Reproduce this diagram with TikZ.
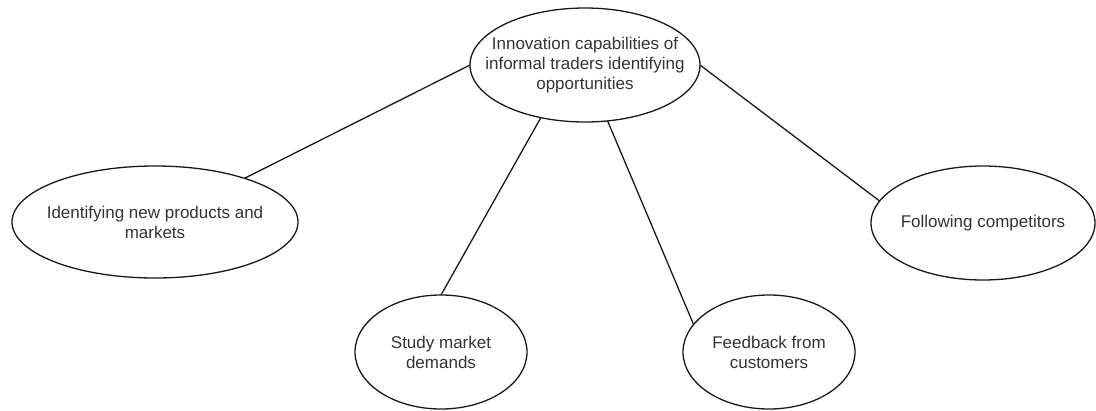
\documentclass[tikz,border=0pt]{standalone}
\usepackage{fontspec}
\setmainfont{Liberation Sans}
\usetikzlibrary{shapes.geometric}
\begin{document}
\begin{tikzpicture}[x=1pt,y=-1pt,
  ell/.style={ellipse, draw=black!90, line width=1.3pt, inner sep=0pt, outer sep=0pt},
  txt/.style={align=center, font=\fontsize{17}{20}\selectfont, text=black!80},
  conn/.style={draw=black!90, line width=1.3pt}]
\useasboundingbox (0,0) rectangle (1096,410);
\node[ell, minimum width=230, minimum height=114,
  label={[txt]center:Innovation capabilities of\\informal traders identifying\\opportunities}] (top) at (585,65) {};
\node[ell, minimum width=286, minimum height=112,
  label={[txt]center:Identifying new products and\\markets}] (left) at (155,222) {};
\node[ell, minimum width=172, minimum height=114,
  label={[txt]center:Study market\\demands}] (study) at (441,352) {};
\node[ell, minimum width=172, minimum height=114,
  label={[txt]center:Feedback from\\customers}] (feed) at (769,352) {};
\node[ell, minimum width=224, minimum height=114,
  label={[txt]center:Following competitors}] (follow) at (983,223) {};
\draw[conn] (top.west) -- (left.26);
\draw[conn] (top.230) -- (study.north);
\draw[conn] (top.292) -- (feed.160);
\draw[conn] (top.east) -- (follow.168);
\end{tikzpicture}
\end{document}
